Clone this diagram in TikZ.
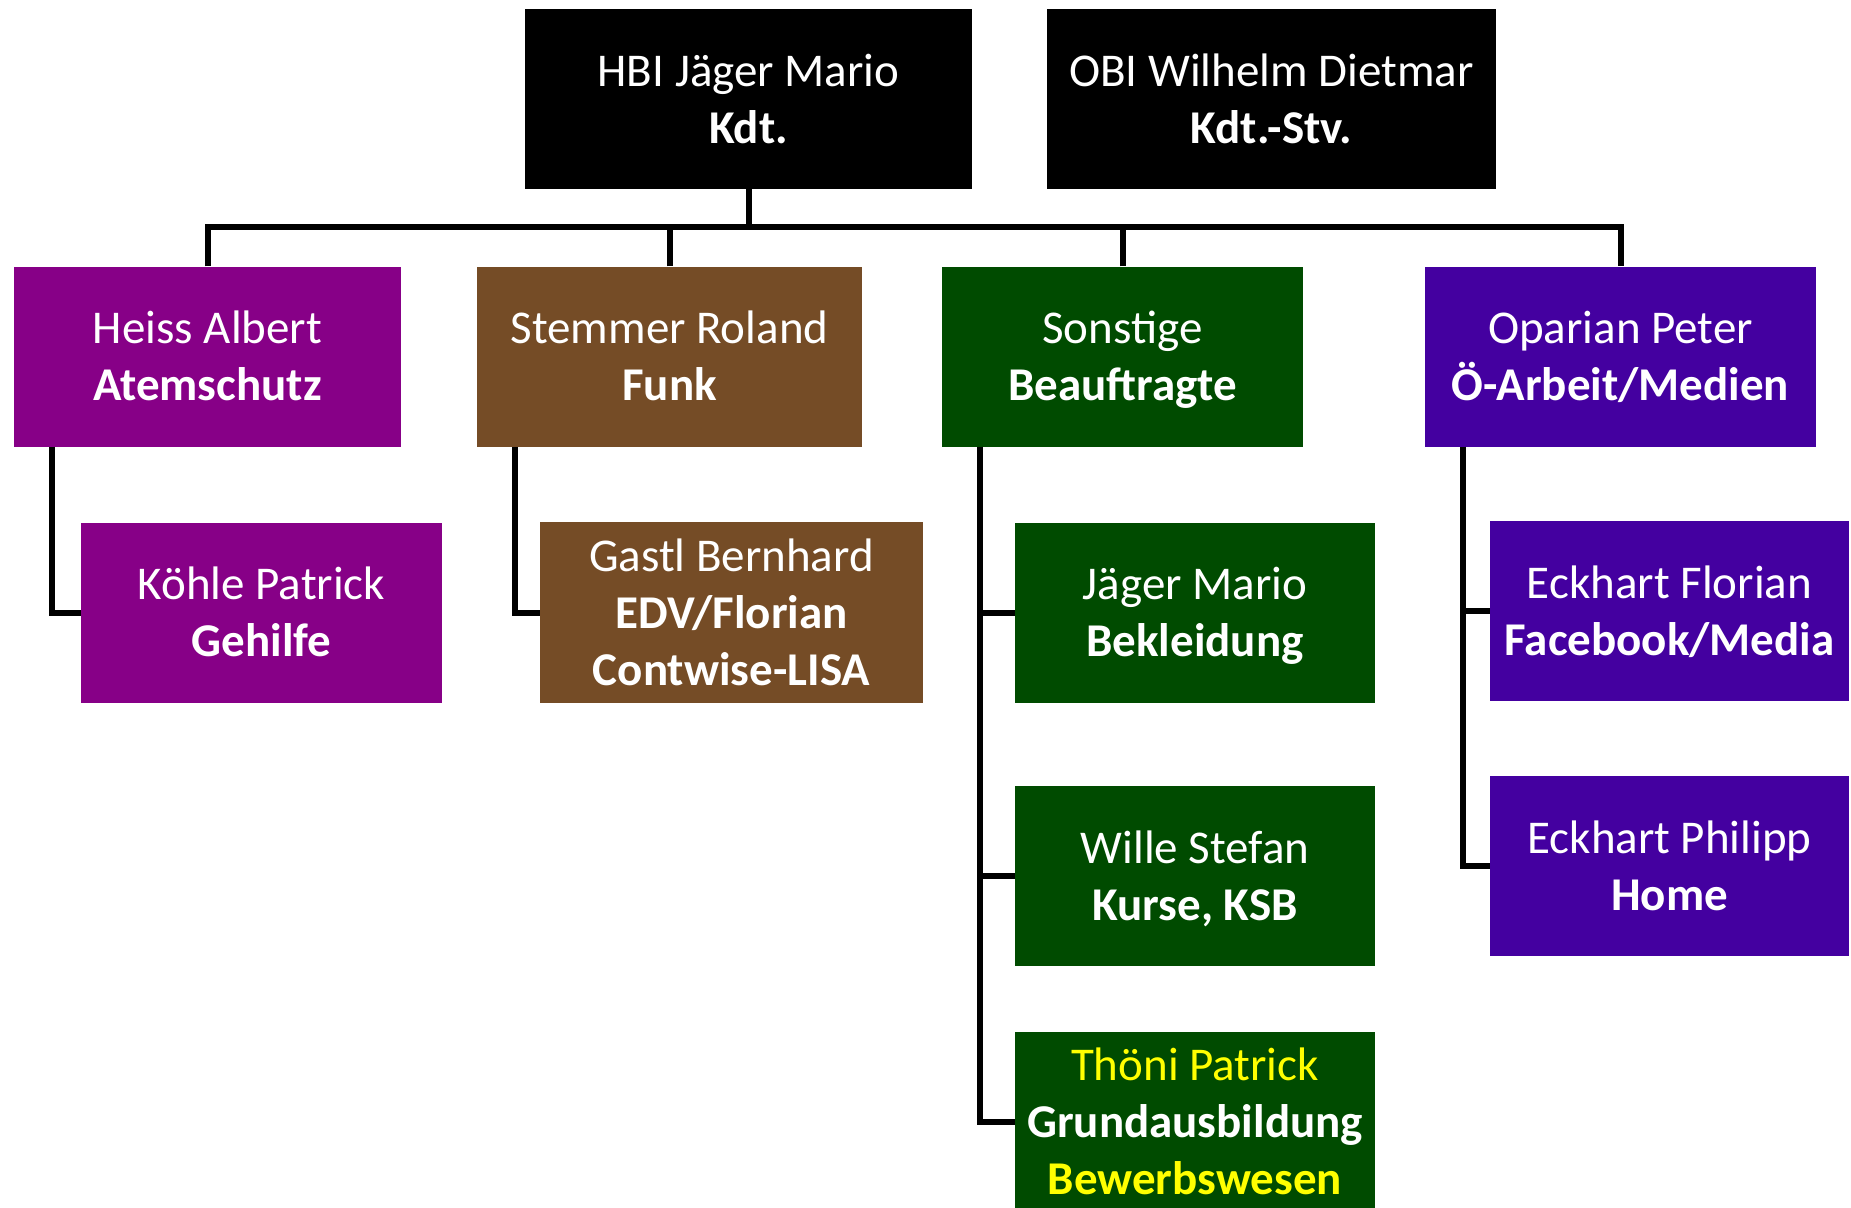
\documentclass[tikz,border=0pt]{standalone}
\usepackage{fontspec}
\setmainfont{Carlito}
\usepackage{tikz}
\usetikzlibrary{calc}

\definecolor{kdtblack}{HTML}{000000}
\definecolor{asviolet}{HTML}{870087}
\definecolor{funkbrown}{HTML}{754C26}
\definecolor{sonstgreen}{HTML}{004B00}
\definecolor{medienblue}{HTML}{4400A0}
\definecolor{signyellow}{HTML}{FFFF00}

% keeps the first line of every box at the same height
\newcommand{\topline}{\rule{0pt}{49pt}}

\begin{document}
\begin{tikzpicture}
        % One unit is one pixel of the chart, y runs downwards
        \tikzset{
            x=1pt, y=-1pt,
            orgbox/.style={rectangle, minimum width=#1, minimum height=180,
                inner sep=0pt, text=white, align=center,
                font={\fontsize{47}{57}\selectfont},
                execute at end node=\strut},
            orgbox/.default=361,
            orgline/.style={line width=6pt, line join=miter, black},
        }
        \pgfmathsetmacro{\trunk}{38}

        \useasboundingbox (0, 0) rectangle (1851, 1207);

        % Top row
        \node (kdt) at (748.5, 99) [orgbox=447, fill=kdtblack]
            {\topline HBI Jäger Mario\\\textbf{Kdt.}};
        \node (stv) at (1271.5, 99) [orgbox=449, fill=kdtblack]
            {\topline OBI Wilhelm Dietmar\\\textbf{Kdt.-Stv.}};

        % Sections
        \node (heiss) at (207.5, 356.5) [orgbox=387, fill=asviolet]
            {\topline Heiss Albert\\\textbf{Atemschutz}};
        \node (stemmer) at (669.5, 356.5) [orgbox=385, fill=funkbrown]
            {\topline Stemmer Roland\\\textbf{Funk}};
        \node (sonstige) at (1122.5, 356.5) [orgbox=361, fill=sonstgreen]
            {\topline Sonstige\\\textbf{Beauftragte}};
        \node (oparian) at (1620.5, 356.5) [orgbox=391, fill=medienblue]
            {\topline Oparian Peter\\\textbf{Ö-Arbeit/Medien}};

        % Members
        \node (koehle) at (261.5, 612.5) [orgbox=361, fill=asviolet]
            {\topline Köhle Patrick\\\textbf{Gehilfe}};
        \node (gastl) at (731.5, 612.5) [orgbox=383, fill=funkbrown]
            {\topline Gastl Bernhard\\\textbf{EDV/Florian}\\\textbf{Contwise-LISA}};
        \node (jaeger) at (1195, 612.5) [orgbox=360, fill=sonstgreen]
            {\topline Jäger Mario\\\textbf{Bekleidung}};
        \node (wille) at (1195, 876) [orgbox=360, fill=sonstgreen]
            {\topline Wille Stefan\\\textbf{Kurse, KSB}};
        \node (thoeni) at (1195, 1122) [orgbox=360, fill=sonstgreen]
            {\topline\textcolor{signyellow}{Thöni Patrick}\\\textbf{Grundausbildung}\\
             \textcolor{signyellow}{\textbf{Bewerbswesen}}};
        \node (florian) at (1669.5, 611) [orgbox=359, fill=medienblue]
            {\topline Eckhart Florian\\\textbf{Facebook/Media}};
        \node (philipp) at (1669.5, 866) [orgbox=359, fill=medienblue]
            {\topline Eckhart Philipp\\\textbf{Home}};

        % Bus below the commander
        \coordinate (bus) at (kdt.south |- 0, 227);
        \foreach \sec in {heiss, stemmer, sonstige, oparian}
            \coordinate (\sec-trunk) at ($(\sec.south west) + (\trunk, 0)$);

        \begin{scope}[orgline]
            \draw (kdt.south) -- (bus);
            \draw (heiss.north) |- (bus) -| (oparian.north);
            \draw (stemmer.north) |- (bus);
            \draw (sonstige.north) |- (bus);

            \draw (heiss-trunk) |- (koehle.west);
            \draw (stemmer-trunk) |- (gastl.west);
            \draw (sonstige-trunk) |- (thoeni.west);
            \draw (sonstige-trunk) |- (jaeger.west);
            \draw (sonstige-trunk) |- (wille.west);
            \draw (oparian-trunk) |- (philipp.west);
            \draw (oparian-trunk) |- (florian.west);
        \end{scope}

        \end{tikzpicture}
\end{document}
